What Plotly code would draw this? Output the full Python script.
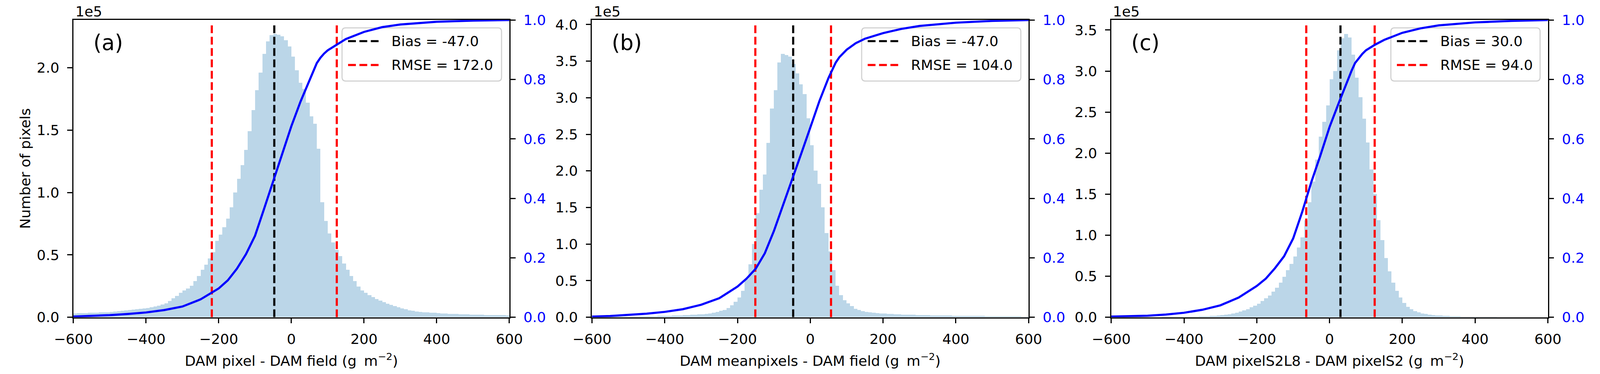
import plotly.graph_objects as go

# histogram bins: 10 units wide from -600 to 600, counts in units of 1e5 pixels
bin_centers = list(range(-595, 600, 10))

counts_a = [
    0.030, 0.031, 0.032, 0.033, 0.034, 0.035, 0.036, 0.037, 0.039, 0.040,
    0.042, 0.044, 0.047, 0.050, 0.053, 0.056, 0.059, 0.062, 0.066, 0.070,
    0.074, 0.079, 0.085, 0.092, 0.100, 0.112, 0.130, 0.150, 0.170, 0.195,
    0.215, 0.230, 0.250, 0.290, 0.330, 0.380, 0.420, 0.470, 0.520, 0.610,
    0.660, 0.720, 0.790, 0.880, 1.000, 1.110, 1.220, 1.340, 1.490, 1.660,
    1.820, 1.960, 2.110, 2.210, 2.260, 2.270, 2.265, 2.250, 2.220, 2.170,
    2.090, 1.980, 1.880, 1.830, 1.720, 1.610, 1.550, 1.350, 0.920, 0.770,
    0.670, 0.600, 0.540, 0.490, 0.430, 0.380, 0.330, 0.290, 0.245, 0.215,
    0.195, 0.175, 0.160, 0.145, 0.132, 0.120, 0.108, 0.097, 0.088, 0.079,
    0.070, 0.062, 0.055, 0.050, 0.045, 0.042, 0.040, 0.038, 0.036, 0.034,
    0.032, 0.030, 0.028, 0.027, 0.026, 0.025, 0.024, 0.023, 0.022, 0.021,
    0.020, 0.020, 0.019, 0.018, 0.018, 0.017, 0.017, 0.016, 0.016, 0.015,
]

counts_b = [
    0.004, 0.004, 0.005, 0.005, 0.005, 0.006, 0.006, 0.007, 0.007, 0.008,
    0.008, 0.009, 0.009, 0.010, 0.011, 0.012, 0.013, 0.014, 0.015, 0.016,
    0.018, 0.019, 0.021, 0.023, 0.024, 0.026, 0.028, 0.031, 0.034, 0.037,
    0.041, 0.045, 0.050, 0.058, 0.070, 0.085, 0.100, 0.125, 0.160, 0.210,
    0.270, 0.360, 0.520, 0.720, 1.000, 1.420, 1.740, 1.950, 2.380, 2.850,
    3.100, 3.480, 3.600, 3.580, 3.560, 3.460, 3.330, 3.180, 3.050, 2.720,
    2.350, 2.000, 1.820, 1.500, 1.150, 0.900, 0.640, 0.430, 0.300, 0.230,
    0.190, 0.150, 0.115, 0.095, 0.082, 0.072, 0.065, 0.060, 0.056, 0.052,
    0.049, 0.046, 0.043, 0.040, 0.038, 0.036, 0.034, 0.032, 0.031, 0.030,
    0.029, 0.027, 0.026, 0.025, 0.024, 0.023, 0.022, 0.021, 0.021, 0.020,
    0.019, 0.018, 0.018, 0.017, 0.016, 0.016, 0.015, 0.015, 0.014, 0.013,
    0.013, 0.012, 0.012, 0.011, 0.011, 0.010, 0.010, 0.010, 0.009, 0.009,
]

counts_c = [
    0.001, 0.001, 0.001, 0.001, 0.002, 0.002, 0.002, 0.002, 0.002, 0.003,
    0.003, 0.003, 0.003, 0.003, 0.004, 0.004, 0.004, 0.005, 0.005, 0.005,
    0.006, 0.006, 0.007, 0.008, 0.009, 0.010, 0.012, 0.015, 0.018, 0.022,
    0.026, 0.031, 0.037, 0.045, 0.055, 0.066, 0.080, 0.098, 0.120, 0.140,
    0.165, 0.195, 0.230, 0.265, 0.310, 0.360, 0.420, 0.490, 0.570, 0.650,
    0.740, 0.850, 0.970, 1.180, 1.400, 1.650, 1.920, 2.200, 2.380, 2.580,
    2.900, 3.000, 3.250, 3.400, 3.450, 3.410, 3.200, 2.920, 2.680, 2.420,
    2.130, 1.800, 1.500, 1.180, 0.940, 0.720, 0.560, 0.420, 0.320, 0.240,
    0.175, 0.125, 0.095, 0.072, 0.058, 0.046, 0.038, 0.031, 0.026, 0.022,
    0.019, 0.016, 0.014, 0.012, 0.010, 0.009, 0.008, 0.007, 0.006, 0.005,
    0.005, 0.005, 0.004, 0.004, 0.004, 0.004, 0.003, 0.003, 0.003, 0.003,
    0.003, 0.003, 0.002, 0.002, 0.002, 0.002, 0.002, 0.002, 0.002, 0.002,
]

# cumulative distribution (right axis)
cdf_x = [-600, -550, -500, -450, -400, -350, -300, -250, -200, -175, -150, -125,
         -100, -75, -50, -25, 0, 25, 50, 60, 70, 80, 90, 100, 125, 150, 200, 250,
         300, 400, 500, 600]
cdf_a = [0.002, 0.004, 0.007, 0.011, 0.016, 0.024, 0.036, 0.060, 0.097, 0.124, 0.163, 0.212,
         0.274, 0.365, 0.458, 0.552, 0.643, 0.725, 0.797, 0.822, 0.855, 0.873, 0.887, 0.898,
         0.918, 0.936, 0.960, 0.976, 0.985, 0.994, 0.998, 1.000]
cdf_b = [0.002, 0.004, 0.008, 0.012, 0.018, 0.027, 0.042, 0.064, 0.103, 0.130, 0.163, 0.215,
         0.290, 0.375, 0.462, 0.550, 0.638, 0.727, 0.805, 0.830, 0.857, 0.875, 0.888, 0.900,
         0.922, 0.937, 0.956, 0.970, 0.980, 0.991, 0.997, 1.000]
cdf_c = [0.002, 0.003, 0.005, 0.009, 0.015, 0.025, 0.040, 0.066, 0.105, 0.130, 0.165, 0.205,
         0.265, 0.355, 0.455, 0.545, 0.640, 0.720, 0.800, 0.828, 0.855, 0.872, 0.886, 0.898,
         0.917, 0.933, 0.957, 0.972, 0.982, 0.992, 0.997, 1.000]

bias = [-47.0, -47.0, 30.0]
rmse = [172.0, 104.0, 94.0]
count_max = [2.383, 4.062, 3.622]
panel_labels = ["(a)", "(b)", "(c)"]
x_titles = [
    "DAM pixel - DAM field (g\u00a0\u2009m<sup>\u22122</sup>)",
    "DAM meanpixels - DAM field (g\u00a0\u2009m<sup>\u22122</sup>)",
    "DAM pixelS2L8 - DAM pixelS2 (g\u00a0\u2009m<sup>\u22122</sup>)",
]

# the page comes out about 1.1x bigger in the photo, so the figure fills the
# window (autosize) and every pixel size below is divided by S
S = 1.1
PW, PH = 4514, 958


def fx(X):
    return (X - 8 * S) / (PW - 16 * S)


def fy(Y):
    return 1 - (Y - 8 * S) / (PH - 16 * S)


def sz(v):
    return v / S


FONT = "DejaVu Sans"
hist_color = "rgba(31,119,180,0.3)"
DASH = "%.1fpx,%.1fpx" % (sz(22), sz(10))

# panel boxes in photo pixels
x_px = [(207, 1437), (1670, 2902), (3135, 4367)]
y_top, y_bot = 52, 812
legend_w = [450, 449, 421]

counts = [counts_a, counts_b, counts_c]
cdfs = [cdf_a, cdf_b, cdf_c]

fig = go.Figure()
annotations = []
shapes = []

for i in range(3):
    xa = "x" if i == 0 else "x%d" % (i + 1)
    yl = "y" if i == 0 else "y%d" % (2 * i + 1)
    yr = "y%d" % (2 * i + 2)
    x0, x1 = x_px[i]

    fig.add_trace(go.Bar(x=bin_centers, y=counts[i], width=10,
                         marker=dict(color=hist_color, line=dict(width=0)),
                         xaxis=xa, yaxis=yl, showlegend=False, hoverinfo="skip"))
    b, r = bias[i], rmse[i]
    fig.add_trace(go.Scatter(x=[b - r, b - r, None, b + r, b + r],
                             y=[0, 0.988, None, 0, 0.988], mode="lines",
                             line=dict(color="red", width=sz(6), dash=DASH),
                             xaxis=xa, yaxis=yr, showlegend=False))
    fig.add_trace(go.Scatter(x=[b, b], y=[0, 0.988], mode="lines",
                             line=dict(color="black", width=sz(6), dash=DASH),
                             xaxis=xa, yaxis=yr, showlegend=False))
    fig.add_trace(go.Scatter(x=cdf_x, y=cdfs[i], mode="lines",
                             line=dict(color="blue", width=sz(6)),
                             xaxis=xa, yaxis=yr, showlegend=False))

    axis_common = dict(showline=True, linecolor="black", linewidth=sz(3.2),
                       ticks="outside", ticklen=sz(14), tickwidth=sz(3.2), tickcolor="black",
                       showgrid=False, zeroline=False, automargin=False,
                       tickfont=dict(family=FONT, size=sz(40), color="black"))
    fig.update_layout({
        ("xaxis" if i == 0 else "xaxis%d" % (i + 1)): dict(
            axis_common, domain=[fx(x0), fx(x1)], anchor=yl, range=[-600, 600],
            tick0=0, dtick=200, mirror=True, ticklabelstandoff=round(sz(10))),
        ("yaxis" if i == 0 else "yaxis%d" % (2 * i + 1)): dict(
            axis_common, domain=[fy(y_bot), fy(y_top)], anchor=xa,
            range=[0, count_max[i]], tick0=0, dtick=0.5, tickformat=".1f",
            ticklabelstandoff=round(sz(14))),
        "yaxis%d" % (2 * i + 2): dict(
            axis_common, overlaying=yl, side="right", anchor=xa, range=[0, 1],
            tick0=0, dtick=0.2, tickformat=".1f", ticklabelstandoff=round(sz(14)),
            tickfont=dict(family=FONT, size=sz(40), color="blue")),
    })

    # legend drawn by hand: rounded box, dashed samples and labels
    def dx(p, x0=x0, x1=x1):
        return (p - x0) / (x1 - x0)

    def dy(p):
        return (y_bot - p) / (y_bot - y_top)

    lr = x1 - 22
    ll = lr - legend_w[i]
    lt, lb, rad = 72, 208, 10
    path = ("M{a},{t} L{b},{t} Q{R},{t} {R},{t2} L{R},{b2} Q{R},{B} {b},{B} "
            "L{a},{B} Q{L},{B} {L},{b2} L{L},{t2} Q{L},{t} {a},{t} Z").format(
        a=dx(ll + rad), b=dx(lr - rad), L=dx(ll), R=dx(lr),
        t=dy(lt), t2=dy(lt + rad), B=dy(lb), b2=dy(lb - rad))
    xd, yd = xa + " domain", yl + " domain"
    shapes.append(dict(type="path", path=path, xref=xd, yref=yd, layer="below",
                       fillcolor="rgba(255,255,255,0.8)",
                       line=dict(color="#d0d0d0", width=sz(3))))
    entries = [("Bias = %s" % b, "black", 106), ("RMSE = %s" % r, "red", 167)]
    for text, color, ypx in entries:
        shapes.append(dict(type="line", xref=xd, yref=yd, layer="below",
                           x0=dx(ll + 17), x1=dx(ll + 103), y0=dy(ypx), y1=dy(ypx),
                           line=dict(color=color, width=sz(6), dash=DASH)))
        annotations.append(dict(x=fx(ll + 137), y=fy(ypx), xref="paper", yref="paper",
                                text=text, showarrow=False, xanchor="left", yanchor="middle",
                                font=dict(family=FONT, size=sz(40), color="black")))

    annotations.append(dict(x=fx(x0 + 3), y=fy(30), xref="paper", yref="paper",
                            text="1e5", showarrow=False, xanchor="left", yanchor="middle",
                            font=dict(family=FONT, size=sz(40), color="black")))
    annotations.append(dict(x=fx(x0 + 54), y=fy(110), xref="paper", yref="paper",
                            text=panel_labels[i], showarrow=False, xanchor="left",
                            yanchor="middle", font=dict(family=FONT, size=sz(60), color="black")))
    annotations.append(dict(x=fx((x0 + x1) / 2), y=fy(921), xref="paper", yref="paper",
                            text=x_titles[i], showarrow=False, xanchor="center",
                            yanchor="middle", font=dict(family=FONT, size=sz(40), color="black")))

annotations.append(dict(x=fx(71), y=fy(432), xref="paper", yref="paper",
                        text="Number of pixels", textangle=-90, showarrow=False,
                        xanchor="center", yanchor="middle",
                        font=dict(family=FONT, size=sz(40), color="black")))

fig.update_layout(
    autosize=True,
    margin=dict(l=0, r=0, t=0, b=0),
    paper_bgcolor="white", plot_bgcolor="white",
    bargap=0, showlegend=False,
    font=dict(family=FONT, size=sz(40), color="black"),
    annotations=annotations,
    shapes=shapes,
)

fig.write_html("out.html")
